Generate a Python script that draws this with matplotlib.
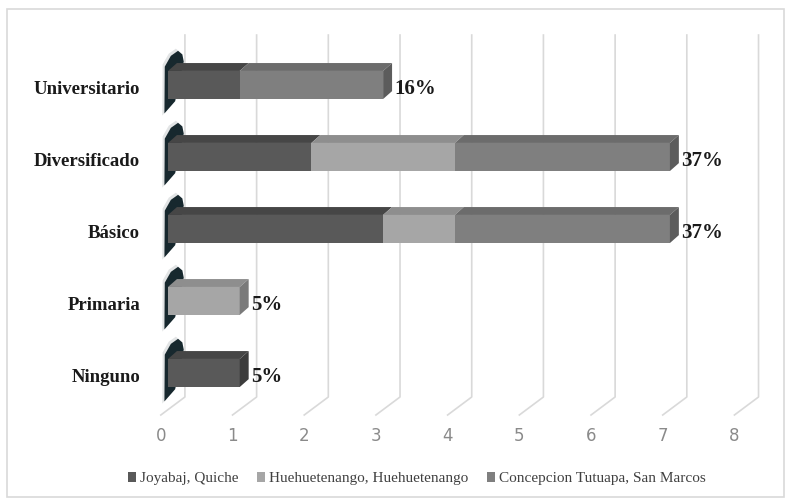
import matplotlib.pyplot as plt
from matplotlib.patches import Polygon, Rectangle, Patch

categories = ["Ninguno", "Primaria", "Básico", "Diversificado", "Universitario"]
series = ["Joyabaj, Quiche", "Huehuetenango, Huehuetenango", "Concepcion Tutuapa, San Marcos"]
joyabaj = [1, 0, 3, 2, 1]
huehue = [0, 1, 1, 2, 0]
concepcion = [0, 0, 3, 3, 2]
pct_labels = ["5%", "5%", "37%", "37%", "16%"]
xticks = [0, 1, 2, 3, 4, 5, 6, 7, 8]

front = ["#595959", "#a6a6a6", "#7f7f7f"]
top = ["#464646", "#8e8e8e", "#6c6c6c"]
side = ["#3c3c3c", "#7a7a7a", "#5c5c5c"]

serif = ["Liberation Serif", "DejaVu Serif"]

fig = plt.figure(figsize=(7.89, 5.01), dpi=100)
fig.patches.append(Rectangle((7 / 789, 4 / 501), 777 / 789, 488 / 501,
                             transform=fig.transFigure, fill=False,
                             edgecolor="#d9d9d9", linewidth=1.2))

ax = fig.add_axes([168 / 789, 0.1836, 573.6 / 789, 0.7186])
ax.set_xlim(0, 8)
ax.set_ylim(-0.5, 4.5)
ax.axis("off")

# 3d depth of the bars and of the chart walls (in data units)
dx, dy = 0.125, 0.11
h = 0.39
wall_dx, front_dx = 0.236, -0.1
floor_y, front_y, grid_top = -0.333, -0.583, 4.694

# back wall gridlines bending onto the floor
for v in xticks:
    ax.plot([v + wall_dx, v + wall_dx, v + front_dx], [grid_top, floor_y, front_y],
            color="#d9d9d9", linewidth=1.2, clip_on=False, zorder=1)
    ax.text(v + front_dx, -0.88, str(v), ha="center", va="center", fontsize=12,
            color="#8a8a8a", family=["Liberation Sans Narrow", "DejaVu Sans"])

# dark shadows on the left wall behind each bar
for i in range(len(categories)):
    y0, y1 = i - h / 2, i + h / 2 + dy
    shape = [(-0.05, y0 - 0.2), (0.1, y0 - 0.03), (0.22, y1 + 0.02),
             (0.2, y1 + 0.12), (0.14, y1 + 0.17), (0.04, y1 + 0.1), (-0.045, y1 - 0.05)]
    for grow, a in [(0.03, 0.12), (0.0, 1.0)]:
        pts = [(x - grow, y + (grow if y > i else -grow)) for x, y in shape]
        ax.add_patch(Polygon(pts, closed=True, facecolor="#17282e", edgecolor="none",
                             alpha=a, zorder=2, clip_on=False))

# stacked 3d bars: front face, top face, end face
for i in range(len(categories)):
    left = 0
    vals = [joyabaj[i], huehue[i], concepcion[i]]
    last = max(j for j in range(3) if vals[j] > 0)
    for j, w in enumerate(vals):
        if w == 0:
            continue
        y0, y1 = i - h / 2, i + h / 2
        ax.barh(i, w, left=left, height=h, color=front[j], zorder=4)
        ax.add_patch(Polygon([(left, y1), (left + w, y1), (left + w + dx, y1 + dy), (left + dx, y1 + dy)],
                             closed=True, facecolor=top[j], edgecolor="none", zorder=3))
        if j == last:
            ax.add_patch(Polygon([(left + w, y0), (left + w + dx, y0 + dy),
                                  (left + w + dx, y1 + dy), (left + w, y1)],
                                 closed=True, facecolor=side[j], edgecolor="none", zorder=4))
        left += w
    total = sum(vals)
    ax.text(total + dx + 0.03, i - 0.06, pct_labels[i], ha="left", va="center",
            fontsize=15, fontweight="bold", color="#1a1a1a", family=serif, zorder=5)
    ax.text(-0.39, i - 0.06, categories[i], ha="right", va="center", fontsize=13.5,
            fontweight="bold", color="#1a1a1a", family=serif, clip_on=False)

handles = [Patch(facecolor=c, edgecolor="none") for c in front]
fig.legend(handles, series, loc="center", bbox_to_anchor=(0.528, 0.044), ncol=3,
           frameon=False, handlelength=0.55, handleheight=0.55, handletextpad=0.25,
           columnspacing=1.2, prop={"family": serif, "size": 11}, labelcolor="#404040")

fig.savefig("out.png", dpi=100)
